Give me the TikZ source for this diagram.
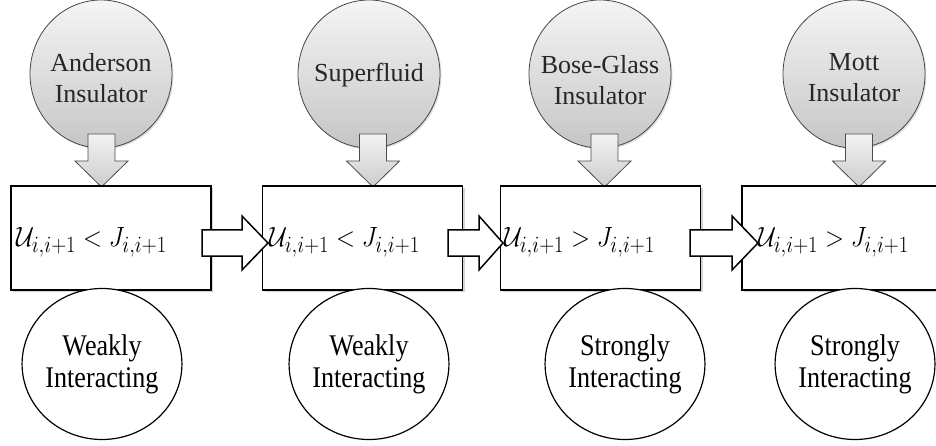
\documentclass[tikz,border=0pt]{standalone}
\usepackage[no-math]{fontspec}
\setmainfont{Liberation Serif}
\newfontfamily\condserif[FakeStretch=0.87]{Liberation Serif}
\usetikzlibrary{shapes.geometric,shadows}
\newcommand{\DownBlock}[1]{%
  \draw[downblock] (#1-13.5,134) -- (#1+13.5,134) -- (#1+13.5,161) -- (#1+26.5,161)
    -- (#1,187) -- (#1-26.5,161) -- (#1-13.5,161) -- cycle;}
\newcommand{\RightBlock}[3]{%
  \draw[rightblock] (#1,230) -- (#2,230) -- (#2,216) -- (#3,243) -- (#2,270)
    -- (#2,256) -- (#1,256) -- cycle;}
\newcommand{\CondText}[1]{\scalebox{1}[1.12]{$#1$}}
\begin{document}
\begin{tikzpicture}[x=1pt,y=-1pt,
  phase/.style={ellipse,minimum width=142pt,minimum height=148pt,inner sep=0pt,
    draw=gray!55!black,line width=0.8pt,top color=gray!8,bottom color=gray!45,
    drop shadow={shadow xshift=1.5pt,shadow yshift=-1.5pt,opacity=0.25}},
  phasetext/.style={align=center,font=\fontsize{26}{31}\selectfont,text=black!85},
  regime/.style={rectangle,minimum width=200pt,minimum height=104pt,inner sep=0pt,
    draw=black,line width=1.6pt,fill=white,
    drop shadow={shadow xshift=2pt,shadow yshift=-2pt,opacity=0.35}},
  inter/.style={ellipse,minimum width=141pt,minimum height=151pt,inner sep=0pt,
    draw=black,line width=1.2pt,fill=white,align=center,
    font=\condserif\fontsize{30}{32}\selectfont},
  cond/.style={anchor=base west,inner sep=0pt,font=\fontsize{30.5}{36}\selectfont},
  downblock/.style={draw=gray!60!black,line width=0.8pt,top color=gray!10,bottom color=gray!40},
  rightblock/.style={draw=black,line width=1.5pt,fill=white,line join=miter}]
\useasboundingbox (0,0) rectangle (936,446);
\clip (0,0) rectangle (936,446);
% top phase circles
\node[phase] (p1) at (101,74) {};
\node[phase] (p2) at (369,74) {};
\node[phase] (p3) at (600,74) {};
\node[phase] (p4) at (854,74) {};
\node[phasetext] (l1) at (101,78) {Anderson\\Insulator};
\node[phasetext] (l2) at (369,75) {Superfluid};
\node[phasetext] (l3) at (600,80) {Bose-Glass\\Insulator};
\node[phasetext] (l4) at (854,78) {Mott\\Insulator};
% down arrows
\DownBlock{101.5}
\DownBlock{373}
\DownBlock{604.5}
\DownBlock{859}
% boxes
\node[regime] (b1) at (111,238) {};
\node[regime] (b2) at (362.5,238) {};
\node[regime] (b3) at (600.5,238) {};
\node[regime] (b4) at (842,238) {};
% right arrows
\RightBlock{202}{242}{268}
\RightBlock{448}{479}{503}
\RightBlock{690}{732}{758}
% box texts
\node[cond] (t1) at (16,247) {\CondText{\mathcal{U}_{i,i+1} < J_{i,i+1}}};
\node[cond] (t2) at (269,247) {\CondText{\mathcal{U}_{i,i+1} < J_{i,i+1}}};
\node[cond] (t3) at (504,247) {\CondText{\mathcal{U}_{i,i+1} > J_{i,i+1}}};
\node[cond] (t4) at (758,247) {\CondText{\mathcal{U}_{i,i+1} > J_{i,i+1}}};
% bottom interaction ellipses
\node[inter] (e1) at (102,364) {Weakly\\Interacting};
\node[inter] (e2) at (369,364) {Weakly\\Interacting};
\node[inter] (e3) at (625,364) {Strongly\\Interacting};
\node[inter] (e4) at (855,364) {Strongly\\Interacting};
\end{tikzpicture}
\end{document}
